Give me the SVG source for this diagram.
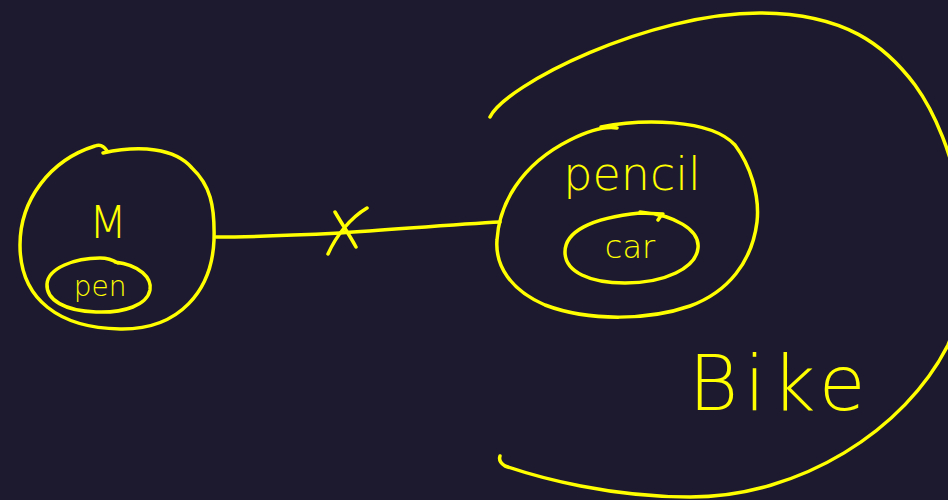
<svg xmlns="http://www.w3.org/2000/svg" width="948" height="500" viewBox="0 0 948 500">
<style>
.s{fill:none;stroke:#ffff00;stroke-width:3.5;stroke-linecap:round;stroke-linejoin:round}
.t{fill:#ffff00;font-family:"DejaVu Sans",sans-serif;font-weight:300}
</style>
<rect width="948" height="500" fill="#1d1a30"/>
<g id="bike">
<path class="s" d="M490,117 C505,85 650,12 762,13 C845,14 885,45 915,85 C955,140 985,255 948,345 C905,430 800,497 690,497 C610,497 540,478 505,466 C500,463 499,459 500,456"/>
<text class="t" x="780" y="410" font-size="76" text-anchor="middle" font-weight="200" letter-spacing="6">Bike</text>
</g>
<g id="m">
<path class="s" d="M103,153 C140,145 175,148 192,168 C210,185 215,205 214,240 C212,290 180,330 120,329 C60,328 20,300 20,245 C20,200 50,160 95,146 C100,144 104,146 107,151"/>
<text class="t" x="108" y="238" font-size="44" text-anchor="middle">M</text>
</g>
<g id="pen">
<path class="s" d="M115,262 C140,265 152,278 150,290 C147,305 125,313 96,312 C65,311 46,300 47,284 C48,268 75,258 100,258 C108,258 113,260 118,263"/>
<text class="t" x="100" y="296" font-size="28" text-anchor="middle">pen</text>
</g>
<g id="pencil">
<path class="s" d="M601,127 C640,119 710,118 735,145 C750,165 760,195 757,222 C752,262 728,292 690,306 C650,320 590,322 545,305 C510,290 495,265 497,240 C499,205 520,165 570,140 C590,130 605,126 617,128"/>
<text class="t" x="632" y="190" font-size="46" text-anchor="middle">pencil</text>
</g>
<g id="car">
<path class="s" d="M640,212 C675,215 700,230 698,248 C696,268 665,283 625,283 C590,283 565,272 565,252 C565,232 590,218 640,213 L663,214 C662,214 658,220 658,220"/>
<text class="t" x="630" y="258" font-size="32" text-anchor="middle">car</text>
</g>
<g id="connectors">
<path class="s" d="M216,237 C260,237 300,235 340,233 C400,229 460,224 500,222"/>
<path class="s" d="M335,212 C342,224 350,236 356,247 M367,208 C350,218 336,236 328,254"/>
</g>
</svg>
